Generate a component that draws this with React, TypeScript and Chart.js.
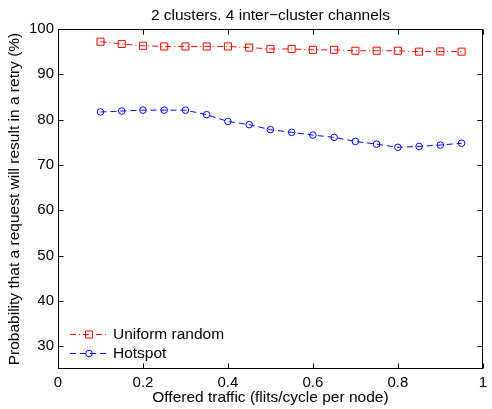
import React, { useEffect, useRef } from "react";
import { Chart, registerables } from "chart.js";

Chart.register(...registerables);

const titleText = "2 clusters. 4 inter\u2212cluster channels";
const xLabel = "Offered traffic (flits/cycle per node)";
const yLabel = "Probability that a request will result in a retry (%)";
const seriesNames = ["Uniform random", "Hotspot"];

const offeredTraffic = [0.1, 0.15, 0.2, 0.25, 0.3, 0.35, 0.4, 0.45, 0.5, 0.55, 0.6, 0.65, 0.7, 0.75, 0.8, 0.85, 0.9, 0.95];
const uniformRandom = [97.2, 96.7, 96.3, 96.15, 96.15, 96.15, 96.15, 95.9, 95.6, 95.6, 95.4, 95.4, 95.2, 95.2, 95.2, 95.0, 95.05, 95.0];
const hotspot = [81.7, 81.9, 82.1, 82.1, 82.1, 81.1, 79.6, 78.9, 77.8, 77.2, 76.6, 76.1, 75.2, 74.6, 73.9, 74.1, 74.4, 74.8];

const xTicks = [0, 0.2, 0.4, 0.6, 0.8, 1];
const yTicks = [30, 40, 50, 60, 70, 80, 90, 100];

const FONT = '"Liberation Sans", Arial, Helvetica, sans-serif';
const LABEL_SIZE = 15.5;
const TICK_SIZE = 15;

const framePlugin = {
  id: "matlabFrame",
  afterDraw(chart: any) {
    const { ctx, chartArea: a, scales } = chart;
    const xs = scales.x;
    const ys = scales.y;
    ctx.save();
    ctx.strokeStyle = "#000";
    ctx.lineWidth = 1;
    ctx.setLineDash([]);
    const L = Math.floor(a.left) + 0.5;
    const R = Math.round(a.right) - 0.5;
    const T = Math.floor(a.top) + 0.5;
    const B = Math.round(a.bottom) - 0.5;
    ctx.strokeRect(L, T, R - L, B - T);
    const tl = 5;
    ctx.beginPath();
    xTicks.forEach((v) => {
      const px = Math.round(xs.getPixelForValue(v)) + 0.5;
      ctx.moveTo(px, B);
      ctx.lineTo(px, B - tl);
      ctx.moveTo(px, T);
      ctx.lineTo(px, T + tl);
    });
    yTicks.forEach((v) => {
      const py = Math.round(ys.getPixelForValue(v)) + 0.5;
      ctx.moveTo(L, py);
      ctx.lineTo(L + tl, py);
      ctx.moveTo(R, py);
      ctx.lineTo(R - tl, py);
    });
    ctx.stroke();

    // title
    ctx.fillStyle = "#000";
    ctx.font = `${LABEL_SIZE}px ${FONT}`;
    ctx.textAlign = "center";
    ctx.textBaseline = "alphabetic";
    ctx.fillText(titleText, (a.left + a.right) / 2, 19.5);

    // legend
    chart.data.datasets.forEach((ds: any, i: number) => {
      const y = Math.round(a.bottom - 35 + i * 19) + 0.5;
      const x0 = a.left + 12;
      const x1 = a.left + 50;
      const xm = (x0 + x1) / 2;
      ctx.strokeStyle = ds.borderColor;
      ctx.lineWidth = ds.borderWidth;
      ctx.setLineDash(ds.borderDash || []);
      ctx.beginPath();
      ctx.moveTo(x0, y);
      ctx.lineTo(x1, y);
      ctx.stroke();
      ctx.setLineDash([]);
      ctx.beginPath();
      if (ds.pointStyle === "rect") {
        const s = ds.pointRadius * Math.SQRT1_2;
        ctx.rect(xm - s, y - s, 2 * s, 2 * s);
      } else {
        ctx.arc(xm, y, ds.pointRadius, 0, Math.PI * 2);
      }
      ctx.stroke();
      ctx.fillStyle = "#000";
      ctx.font = `${LABEL_SIZE}px ${FONT}`;
      ctx.textAlign = "left";
      ctx.textBaseline = "middle";
      ctx.fillText(ds.label, x1 + 5, y);
    });
    ctx.restore();
  },
};

export default function App() {
  const ref = useRef<HTMLCanvasElement | null>(null);
  useEffect(() => {
    document.body.style.margin = "0";
    const canvas = ref.current;
    if (!canvas) return;
    const chart = new Chart(canvas, {
      type: "line",
      data: {
        datasets: [
          {
            label: seriesNames[0],
            data: offeredTraffic.map((x, i) => ({ x, y: uniformRandom[i] })),
            borderColor: "#ff0000",
            borderWidth: 1,
            borderDash: [6, 3, 1, 3],
            pointStyle: "rect",
            pointRadius: 5,
            pointBorderWidth: 1,
            pointBorderColor: "#ff0000",
            pointBackgroundColor: "rgba(0,0,0,0)",
            fill: false,
            tension: 0,
          },
          {
            label: seriesNames[1],
            data: offeredTraffic.map((x, i) => ({ x, y: hotspot[i] })),
            borderColor: "#0000ff",
            borderWidth: 1,
            borderDash: [6, 4],
            pointStyle: "circle",
            pointRadius: 3.3,
            pointBorderWidth: 1,
            pointBorderColor: "#0000ff",
            pointBackgroundColor: "rgba(0,0,0,0)",
            fill: false,
            tension: 0,
          },
        ],
      } as any,
      options: {
        responsive: false,
        animation: false,
        events: [],
        layout: { padding: { top: 29, right: 3, left: 0, bottom: 0 } },
        plugins: {
          legend: { display: false },
          tooltip: { enabled: false },
          title: { display: false },
        },
        scales: {
          x: {
            type: "linear",
            min: 0,
            max: 1,
            afterBuildTicks: (s: any) => {
              s.ticks = xTicks.map((v) => ({ value: v }));
            },
            afterFit: (s: any) => {
              s.height = 40;
            },
            grid: { display: false, drawTicks: false },
            border: { display: false },
            ticks: {
              color: "#000",
              padding: 5,
              maxRotation: 0,
              autoSkip: false,
              font: { family: FONT, size: TICK_SIZE },
              callback: (v: any) => String(v),
            },
            title: {
              display: true,
              text: xLabel,
              color: "#000",
              font: { family: FONT, size: LABEL_SIZE },
              padding: { top: 0, bottom: 2 },
            },
          },
          y: {
            type: "linear",
            min: 25,
            max: 100,
            afterBuildTicks: (s: any) => {
              s.ticks = yTicks.map((v) => ({ value: v }));
            },
            afterFit: (s: any) => {
              s.width = 58;
            },
            grid: { display: false, drawTicks: false },
            border: { display: false },
            ticks: {
              color: "#000",
              padding: 4,
              autoSkip: false,
              font: { family: FONT, size: TICK_SIZE },
              callback: (v: any) => String(v),
            },
            title: {
              display: true,
              text: yLabel,
              color: "#000",
              font: { family: FONT, size: LABEL_SIZE },
              padding: { top: 5, bottom: 0 },
            },
          },
        },
      } as any,
      plugins: [framePlugin],
    });
    return () => chart.destroy();
  }, []);
  return <canvas ref={ref} width={492} height={409} style={{ display: "block" }} />;
}
